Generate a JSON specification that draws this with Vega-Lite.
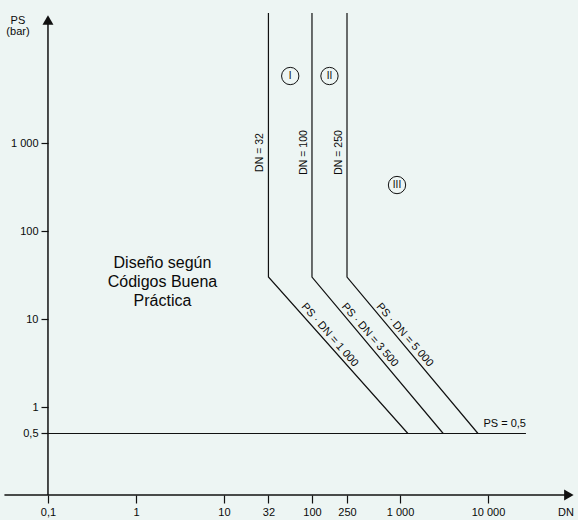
{
  "$schema": "https://vega.github.io/schema/vega-lite/v6.json",
  "width": 578,
  "height": 520,
  "autosize": {"type": "none"},
  "padding": 0,
  "background": "#edf5f3",
  "config": {
    "view": {"stroke": null},
    "font": "Liberation Sans",
    "text": {"font": "Liberation Sans", "color": "#0a0a0a"}
  },
  "datasets": {
    "lines": [
      {"series": "A", "i": 1, "DN": 32, "PS": 30000},
      {"series": "A", "i": 2, "DN": 32, "PS": 30},
      {"series": "A", "i": 3, "DN": 1230, "PS": 0.5},
      {"series": "B", "i": 1, "DN": 100, "PS": 30000},
      {"series": "B", "i": 2, "DN": 100, "PS": 30},
      {"series": "B", "i": 3, "DN": 3100, "PS": 0.5},
      {"series": "C", "i": 1, "DN": 250, "PS": 30000},
      {"series": "C", "i": 2, "DN": 250, "PS": 30},
      {"series": "C", "i": 3, "DN": 7700, "PS": 0.5},
      {"series": "H", "i": 1, "DN": 0.1, "PS": 0.5},
      {"series": "H", "i": 2, "DN": 27000, "PS": 0.5}
    ],
    "axes": [
      {"DN": 0.1, "PS": 0.1, "DN2": 0.1, "PS2": 25000},
      {"DN": 0.032, "PS": 0.1, "DN2": 83000, "PS2": 0.1}
    ],
    "vlabels": [
      {"label": "DN = 32", "DN": 32, "PS": 780},
      {"label": "DN = 100", "DN": 100, "PS": 780},
      {"label": "DN = 250", "DN": 250, "PS": 780}
    ],
    "dlabels": [
      {"label": "PS · DN = 1 000", "DN": 138, "PS": 5.83},
      {"label": "PS · DN = 3 500", "DN": 395, "PS": 5.83},
      {"label": "PS · DN = 5 000", "DN": 985, "PS": 5.83}
    ],
    "zones": [
      {"label": "I", "DN": 56.6, "PS": 5770},
      {"label": "II", "DN": 158, "PS": 5770},
      {"label": "III", "DN": 925, "PS": 333}
    ]
  },
  "encoding": {
    "x": {
      "field": "DN",
      "type": "quantitative",
      "scale": {"type": "log", "domain": [0.0285, 105400], "nice": false, "zero": false},
      "axis": {
        "values": [0.1, 1, 10, 32, 100, 250, 1000, 10000],
        "labelExpr": "datum.value < 0.5 ? '0,1' : datum.value == 1000 ? '1 000' : datum.value == 10000 ? '10 000' : format(datum.value, 'd')",
        "offset": -25,
        "domain": false,
        "grid": false,
        "title": null,
        "tickSize": 8,
        "tickColor": "#111",
        "tickWidth": 1.2,
        "labelFontSize": 11,
        "labelColor": "#0a0a0a",
        "labelFont": "Liberation Sans",
        "labelPadding": 3,
        "labelFlush": false,
        "labelOverlap": false
      }
    },
    "y": {
      "field": "PS",
      "type": "quantitative",
      "scale": {"type": "log", "domain": [0.052, 42170], "nice": false, "zero": false},
      "axis": {
        "values": [0.5, 1, 10, 100, 1000],
        "labelExpr": "datum.value == 0.5 ? '0,5' : datum.value == 1000 ? '1 000' : format(datum.value, 'd')",
        "offset": -48,
        "domain": false,
        "grid": false,
        "title": null,
        "tickSize": 7,
        "tickColor": "#111",
        "tickWidth": 1.2,
        "labelFontSize": 11,
        "labelColor": "#0a0a0a",
        "labelFont": "Liberation Sans",
        "labelPadding": 3,
        "labelFlush": false,
        "labelOverlap": false
      }
    }
  },
  "layer": [
    {
      "data": {"name": "axes"},
      "mark": {"type": "rule", "color": "#111", "strokeWidth": 1.5},
      "encoding": {"x2": {"field": "DN2"}, "y2": {"field": "PS2"}}
    },
    {
      "data": {"values": [{"DN": 0.1, "PS": 25000}]},
      "mark": {"type": "point", "shape": "triangle-up", "filled": true, "color": "#111", "size": 120, "opacity": 1}
    },
    {
      "data": {"values": [{"DN": 83000, "PS": 0.1}]},
      "mark": {"type": "point", "shape": "triangle-right", "filled": true, "color": "#111", "size": 120, "opacity": 1}
    },
    {
      "data": {"name": "lines"},
      "mark": {"type": "line", "color": "#111", "strokeWidth": 1.2},
      "encoding": {"detail": {"field": "series"}, "order": {"field": "i"}}
    },
    {
      "data": {"name": "vlabels"},
      "mark": {"type": "text", "angle": 270, "align": "center", "baseline": "bottom", "dy": -3, "fontSize": 10.5},
      "encoding": {"text": {"field": "label"}}
    },
    {
      "data": {"name": "dlabels"},
      "mark": {"type": "text", "angle": 49, "align": "center", "baseline": "bottom", "dy": -2, "fontSize": 11},
      "encoding": {"text": {"field": "label"}}
    },
    {
      "data": {"name": "zones"},
      "mark": {"type": "point", "shape": "circle", "filled": false, "color": "#111", "strokeWidth": 1, "size": 300, "opacity": 1}
    },
    {
      "data": {"name": "zones"},
      "mark": {"type": "text", "align": "center", "baseline": "middle", "fontSize": 10},
      "encoding": {"text": {"field": "label"}}
    },
    {
      "data": {"values": [{"label": "Diseño según\nCódigos Buena\nPráctica", "DN": 2.0, "PS": 43.3}]},
      "mark": {"type": "text", "align": "center", "baseline": "middle", "fontSize": 16, "lineHeight": 19, "lineBreak": "\n"},
      "encoding": {"text": {"field": "label"}}
    },
    {
      "data": {"values": [{"label": "PS = 0,5", "DN": 27000, "PS": 0.5}]},
      "mark": {"type": "text", "align": "right", "baseline": "bottom", "dy": -4, "fontSize": 11},
      "encoding": {"text": {"field": "label"}}
    },
    {
      "data": {"values": [{"label": "PS\n(bar)", "DN": 0.0456, "PS": 24660}]},
      "mark": {"type": "text", "align": "center", "baseline": "middle", "fontSize": 11, "lineHeight": 11, "lineBreak": "\n"},
      "encoding": {"text": {"field": "label"}}
    },
    {
      "data": {"values": [{"label": "DN", "DN": 76900, "PS": 0.0625}]},
      "mark": {"type": "text", "align": "center", "baseline": "middle", "fontSize": 11},
      "encoding": {"text": {"field": "label"}}
    }
  ]
}
